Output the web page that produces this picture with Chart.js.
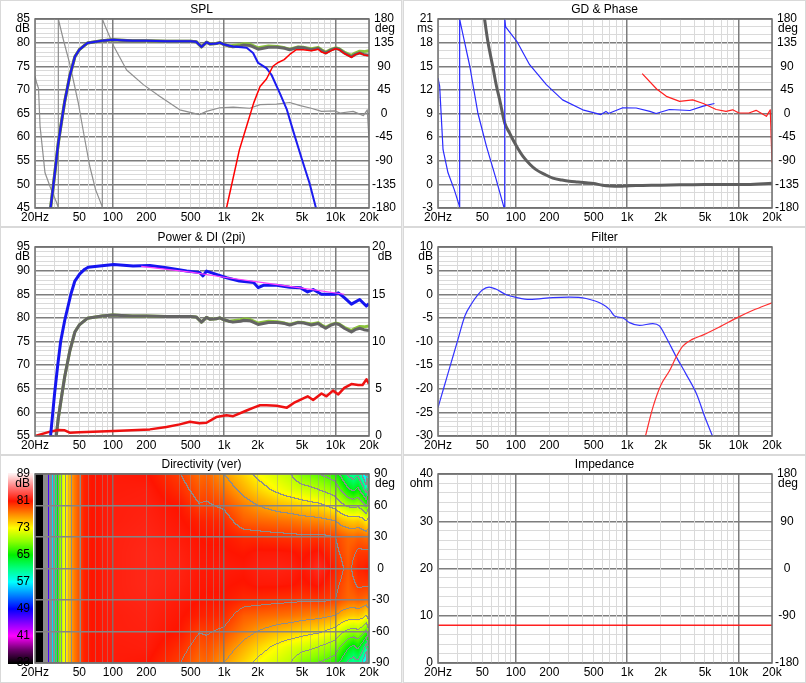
<!DOCTYPE html>
<html>
<head>
<meta charset="utf-8">
<script src="https://cdn.jsdelivr.net/npm/chart.js@4.4.1/dist/chart.umd.min.js"></script>
<style>
  html, body { margin: 0; padding: 0; background: #ececec; }
  body { width: 806px; height: 683px; position: relative; overflow: hidden; }
  .p { position: absolute; background: #fff; border: 1px solid #d9d9d9; box-sizing: border-box; }
  .c { position: absolute; width: 403px; height: 227px; }
  canvas { display: block; }
</style>
</head>
<body>
<div class="p" style="left:0;top:0;width:402px;height:227px"></div>
<div class="p" style="left:403px;top:0;width:403px;height:227px"></div>
<div class="p" style="left:0;top:227px;width:402px;height:228px"></div>
<div class="p" style="left:403px;top:227px;width:403px;height:228px"></div>
<div class="p" style="left:0;top:455px;width:402px;height:228px"></div>
<div class="p" style="left:403px;top:455px;width:403px;height:228px"></div>

<div class="c" style="left:0;top:0"><canvas id="spl" width="403" height="227"></canvas></div>
<div class="c" style="left:403px;top:0"><canvas id="gd" width="403" height="227"></canvas></div>
<div class="c" style="left:0;top:228px"><canvas id="pow" width="403" height="227"></canvas></div>
<div class="c" style="left:403px;top:228px"><canvas id="filt" width="403" height="227"></canvas></div>
<div class="c" style="left:0;top:455px"><canvas id="dir" width="403" height="227"></canvas></div>
<div class="c" style="left:403px;top:455px"><canvas id="imp" width="403" height="227"></canvas></div>

<script>
// ---- frequency axis ----
const xTickVals = [20, 30, 40, 50, 60, 70, 80, 90, 100, 200, 300, 400, 500, 600, 700, 800, 900,
  1000, 2000, 3000, 4000, 5000, 6000, 7000, 8000, 9000, 10000, 20000];
const xLabelVals = [20, 50, 100, 200, 500, 1000, 2000, 5000, 10000, 20000];
const xLabelText = ['20Hz', '50', '100', '200', '500', '1k', '2k', '5k', '10k', '20k'];
const xMajor = [100, 1000, 10000];

// ---- SPL ----
const splTicks = [45, 50, 55, 60, 65, 70, 75, 80, 85];
const degTicks = [-180, -135, -90, -45, 0, 45, 90, 135, 180];
const totFreq = [26, 27.6, 30, 32.4, 35, 37, 41, 45.6, 50, 59, 70, 80, 100, 120, 150, 200, 300, 400, 500, 560,
  626, 694, 750, 850, 914, 1000, 1100, 1200, 1400, 1500, 1700, 2020, 2500, 3000, 3500, 3880, 4600, 5200,
  6080, 7000, 7500, 8170, 9000, 10000, 10780, 12000, 13900, 15000, 16500, 18000, 20000];
const totSpl = [40, 45, 52, 58.8, 64, 67.6, 72.9, 77.0, 78.5, 79.9, 80.2, 80.4, 80.6, 80.5, 80.4, 80.4, 80.3, 80.3, 80.3, 80.2,
  79.1, 80.1, 79.7, 79.8, 80.0, 79.6, 79.3, 79.1, 79.3, 79.5, 79.4, 78.6, 79.0, 79.0, 78.8, 78.5, 79.0, 78.9,
  78.5, 78.8, 78.3, 77.8, 78.4, 78.8, 78.6, 77.8, 77.0, 77.5, 77.8, 77.5, 77.3];
const grnSpl = [40, 45, 52, 58.8, 64, 67.6, 72.9, 77.0, 78.5, 79.9, 80.2, 80.4, 80.6, 80.5, 80.4, 80.4, 80.3, 80.3, 80.3, 80.2,
  79.1, 80.1, 79.7, 79.8, 80.0, 79.6, 79.3, 79.4, 79.6, 79.8, 79.7, 78.9, 79.3, 79.2, 78.9, 78.6, 79.1, 79.0,
  78.7, 79.0, 78.5, 78.0, 78.5, 78.9, 78.7, 78.0, 77.3, 77.8, 78.2, 78.1, 78.3];
const wfFreq = [26, 27.6, 30, 32.4, 35, 37, 41, 45.6, 50, 59, 70, 80, 100, 120, 150, 200, 300, 400, 500, 560,
  626, 694, 750, 850, 914, 1000, 1205, 1592, 1820, 2020, 2400, 2660, 3160, 3660, 4220, 5010, 5840, 6680, 7200];
const wfSpl = [40, 45, 52, 58.8, 64, 67.6, 72.9, 77.0, 78.5, 79.9, 80.2, 80.4, 80.6, 80.5, 80.4, 80.4, 80.3, 80.3, 80.3, 80.2,
  79.1, 80.1, 79.7, 79.8, 80.0, 79.6, 79.2, 78.9, 77.8, 75.7, 74.6, 73.2, 69.3, 65.8, 60.9, 55.2, 50.3, 45, 42];
const twFreq = [1000, 1050, 1370, 1590, 1840, 2100, 2400, 2740, 3060, 3460, 3880, 4450, 5130, 6080, 7000, 7500,
  8170, 9000, 10000, 10780, 12000, 13900, 15000, 16500, 18000, 20000];
const twSpl = [41.5, 45, 57.3, 62.3, 67.2, 70.7, 72.3, 75.0, 75.8, 76.4, 77.5, 78.5, 78.5, 78.3, 78.6, 78.0,
  77.7, 78.2, 78.7, 78.5, 77.7, 76.9, 77.4, 77.8, 77.4, 77.2];
const sphFreq = [20, 20.7, 21.5, 22.2, 24.6, 27.3, 31.3, 32.4, 32.4, 36, 41, 49, 55, 62, 70, 79.5, 80.5, 80.5,
  84, 102, 133, 188, 263, 399, 601, 694, 914, 1205, 1700, 2100, 2960, 3880, 4830, 6050, 7490, 9800, 11000,
  14400, 17800, 19300, 20000];
const sphDeg = [71, 58, 48, -24, -113, -139, -170, -180, 180, 140, 95, 20, -40, -100, -145, -175, -180, 180,
  170, 128, 83, 55, 33, 7, -2, 4, 11, 12, 10, 17, 18, 21, 15, 10, 4, 5, 1, 4, -4, 7, -50];

// ---- GD & phase ----
const msTicks = [-3, 0, 3, 6, 9, 12, 15, 18, 21];
const gdFreq = [48, 52.4, 56, 62, 67, 71.5, 79.5, 88, 94, 105, 116, 135, 152, 180, 215, 260, 303, 360, 428, 500,
  601, 700, 850, 1000, 1205, 2000, 3000, 5000, 8000, 12000, 20000];
const gdMs = [25, 21, 18.2, 15.0, 12.5, 10.8, 7.8, 6.5, 5.7, 4.5, 3.56, 2.5, 1.87, 1.3, 0.8, 0.55, 0.4, 0.3, 0.2, 0.1,
  -0.1, -0.2, -0.25, -0.2, -0.15, -0.1, -0.05, 0, 0, 0, 0.15];
const gpFreq = [20, 20.7, 22.2, 24.6, 28, 31, 31.3, 31.3, 32, 38.6, 45.6, 54.5, 66.7, 78, 79.5, 79.5, 81, 102,
  133, 188, 263, 399, 582, 645, 680, 914, 1205, 1600, 1820, 2400, 3660, 4830, 6080];
const gpDeg = [67.6, 52, -69, -113, -145, -175, -180, 180, 170, 90, 1, -62.5, -126, -178, -180, 180, 165, 137.5,
  93, 55, 26, 7, -2, 4, 0, 11, 10.5, 4, 0, 7.6, 5.7, 14, 19];
const grFreq = [1365, 1840, 2250, 2960, 3880, 4830, 6300, 7730, 8870, 10100, 12400, 14400, 17800, 19300, 20000];
const grDeg = [75.9, 46.7, 32.7, 23, 26, 19, 7.6, 4, 7, 1, 1, 6, -5.4, 7, -94];

// ---- Power & DI ----
const powTicks = [55, 60, 65, 70, 75, 80, 85, 90, 95];
const diTicks = [0, 5, 10, 15, 20];
const pbFreq = [26, 27.6, 30, 32, 34, 37, 42, 45.6, 50.5, 56, 60, 76, 102, 152, 215, 303, 460, 601, 645, 694, 850,
  1050, 1370, 1840, 2020, 2250, 2960, 3880, 4830, 5620, 6300, 7490, 9800, 10600, 12000, 13900, 16500, 18900, 20000];
const pbSpl = [50, 55, 64, 70, 75, 79.5, 85, 87.8, 89.3, 90.3, 90.7, 91.0, 91.3, 91.0, 91.1, 90.6, 89.9, 89.6, 88.9, 89.9, 89.2,
  88.5, 87.8, 87.5, 86.4, 86.9, 86.9, 86.5, 86.4, 85.5, 86.0, 85.0, 85.0, 85.3, 84.3, 82.9, 83.9, 82.5, 83.0];
const mgFreq = [180, 500, 1000, 2000, 5000, 12000];
const mgSpl = [90.9, 89.7, 88.6, 87.6, 86.3, 85.0];
const diFreq = [20, 27.3, 32.4, 37, 41, 50, 102, 215, 303, 399, 492, 601, 694, 850, 1050, 1205, 1590, 1840, 2100,
  2400, 2960, 3660, 4220, 5620, 6300, 7490, 8300, 9500, 10600, 12000, 13900, 16000, 17500, 19000, 20000];
const diDb = [0, 0.46, 0.63, 0.6, 0.35, 0.39, 0.53, 0.7, 0.95, 1.23, 1.5, 1.34, 1.4, 2.0, 2.2, 2.1, 2.7, 3.0, 3.25,
  3.25, 3.2, 3.0, 3.5, 4.2, 3.8, 4.5, 4.2, 4.8, 4.4, 5.1, 5.5, 5.4, 5.4, 6.0, 5.5];

// ---- Filter ----
const filtTicks = [-30, -25, -20, -15, -10, -5, 0, 5, 10];
const fbFreq = [20, 23, 26, 30, 35, 40, 45, 50, 57.5, 66, 82, 102, 133, 215, 303, 428, 601, 694, 770, 914, 1050,
  1290, 1700, 1950, 2250, 2740, 3380, 4220, 5010, 5840];
const fbDb = [-24.0, -19.1, -14.8, -9.8, -4.5, -2.0, -0.3, 0.9, 1.5, 1.1, -0.1, -0.7, -1.1, -0.7, -0.6, -0.9, -2.1, -3.2,
  -4.6, -5.0, -6.0, -6.6, -6.2, -6.7, -9.2, -13.1, -16.9, -21.2, -26.1, -30];
const frFreq = [1461, 1700, 2020, 2400, 2740, 3160, 3880, 4830, 6680, 9860, 13500, 20000];
const frDb = [-30, -24, -19.1, -16.2, -13.4, -11.0, -9.5, -8.6, -7.0, -4.9, -3.4, -1.8];

// ---- Directivity (ver), dB at angle rows 0..90 (both sides) ----
const dirBarTicks = [33, 41, 49, 57, 65, 73, 81, 89];
const dirAngTicks = [-90, -60, -30, 0, 30, 60, 90];
const dirFreq = [20, 23, 23.6, 25, 26.5, 27.8, 29, 31, 33, 36, 40, 45, 50, 55, 65,
  100, 200, 400, 600, 700, 1000, 1500, 2000, 3000, 4000, 5000, 6000, 7000, 8000, 9000, 10000,
  11500, 13000, 14500, 16000, 17500, 19000, 20000];
const dirAngles = [0, 15, 30, 45, 60, 75, 90];
const dirLow = [25, 31, 33, 41, 47, 52, 57, 63, 68, 72, 75, 77.5, 79, 80.5, 81];
const dirLevels = [
  [...dirLow, 81.5, 81.8, 81.6, 81.2, 81.2, 81.3, 81.2, 81.5, 81.6, 81.5, 81.2, 81.5, 82, 81.5, 81, 80.5, 79.8, 78.8, 79.8, 80.5, 80.5, 80.8, 80.8],
  [...dirLow, 81.5, 81.8, 81.5, 81.1, 81.1, 81.1, 80.9, 81.2, 81.2, 81.1, 80.8, 81, 81.2, 80.8, 80.4, 80, 79.2, 78.5, 79.2, 79.8, 79.8, 79.8, 79.7],
  [...dirLow, 81.5, 81.7, 81.3, 81, 80.9, 80.9, 80.3, 80.2, 80, 79.9, 79.8, 79.8, 79.9, 79.8, 79.6, 79.5, 78.8, 78.3, 78.2, 78.5, 78.3, 78.0, 78.5],
  [...dirLow, 81.4, 81.6, 81.1, 80.6, 80.5, 80.3, 78.6, 78.3, 78, 77.8, 77.5, 77.3, 77.2, 77, 76.8, 76.5, 75.5, 75, 74.8, 75, 74.5, 73.5, 75],
  [...dirLow, 81.4, 81.5, 80.9, 79.6, 79.7, 79.2, 77.5, 76.5, 75.5, 75, 74.5, 74.2, 74, 73.5, 73, 72.5, 71, 70, 69.5, 70, 69, 67, 70],
  [...dirLow, 81.3, 81.4, 80.2, 78.8, 79, 77.8, 75.8, 74.5, 73, 72, 71.5, 71, 70.5, 70, 69.5, 69, 67, 65, 64, 65, 63, 60, 65],
  [...dirLow, 81.3, 81.1, 79.6, 78, 78.3, 76.5, 74.5, 73, 71.5, 70.5, 68.5, 68, 67.5, 67, 66.5, 66, 63.5, 61, 60, 61, 58, 55, 62]
];
const cbVals = [33, 37, 41, 45, 49, 53, 57, 61, 65, 69, 73, 77, 81, 85, 89];
const cbColors = [[0, 0, 0], [110, 0, 110], [255, 0, 255], [128, 0, 255], [0, 0, 255], [0, 128, 255], [0, 255, 255],
  [0, 255, 128], [0, 240, 0], [140, 255, 0], [255, 255, 0], [255, 140, 0], [255, 20, 0], [255, 120, 120], [255, 240, 240]];

// ---- Impedance ----
const ohmTicks = [0, 10, 20, 30, 40];
const impDegTicks = [-180, -90, 0, 90, 180];
const impFreq = [20, 20000];
const impOhm = [8, 8];

// ---- helpers ----
const FONT = { family: '"Liberation Sans", Arial, sans-serif', size: 12 };
const MAJ = '#7d7d7d', MIN = '#dadada';
const pts = (xs, ys) => xs.map((x, i) => ({ x, y: ys[i] }));

function xAxis(minCol, majCol, z) {
  return {
    type: 'logarithmic', position: 'bottom', min: 20, max: 20000,
    afterBuildTicks: s => { s.ticks = xTickVals.map(v => ({ value: v })); },
    afterFit: s => { s.height = 19; },
    ticks: {
      autoSkip: false, maxRotation: 0, padding: 2, color: '#000', font: FONT,
      callback: v => { const i = xLabelVals.indexOf(v); return i < 0 ? '' : xLabelText[i]; }
    },
    grid: {
      drawTicks: false, z: z || 0,
      color: c => xMajor.includes(c.tick.value) ? majCol : minCol,
      lineWidth: c => xMajor.includes(c.tick.value) ? 1.5 : 1
    },
    border: { display: false }
  };
}

function leftAxis(majors, minorStep, gridOn) {
  const min = majors[0], max = majors[majors.length - 1];
  const vals = [];
  for (let v = min; v <= max + 1e-6; v += minorStep) vals.push(Math.round(v * 1000) / 1000);
  return {
    type: 'linear', position: 'left', min, max,
    afterBuildTicks: s => { s.ticks = vals.map(v => ({ value: v })); },
    afterFit: s => { s.width = 35; },
    ticks: {
      autoSkip: false, padding: 5, color: '#000', font: FONT,
      callback: v => majors.includes(v) ? String(v) : ''
    },
    grid: {
      display: gridOn, drawTicks: false,
      color: c => majors.includes(c.tick.value) ? MAJ : MIN,
      lineWidth: c => majors.includes(c.tick.value) ? 1.5 : 1
    },
    border: { display: false }
  };
}

function rightAxis(majors, grid) {
  return {
    type: 'linear', position: 'right', min: majors[0], max: majors[majors.length - 1],
    afterBuildTicks: s => { s.ticks = majors.map(v => ({ value: v })); },
    afterFit: s => { s.width = 34; },
    ticks: { autoSkip: false, padding: 3, crossAlign: 'center', color: '#000', font: FONT },
    grid: grid ? { drawTicks: false, z: 1, color: '#858585', lineWidth: 1.5 } : { display: false, drawTicks: false },
    border: { display: false }
  };
}

function blankRight() {
  return {
    type: 'linear', position: 'right', min: 0, max: 1,
    afterFit: s => { s.width = 34; },
    ticks: { display: false }, grid: { display: false, drawTicks: false }, border: { display: false }
  };
}

const panelPlugin = {
  id: 'panel',
  afterDraw(chart, args, o) {
    const { ctx, chartArea: a } = chart;
    ctx.save();
    ctx.strokeStyle = '#6e6e6e';
    ctx.lineWidth = 1.5;
    ctx.strokeRect(a.left, a.top, a.right - a.left, a.bottom - a.top);
    ctx.fillStyle = '#000';
    ctx.font = '12px "Liberation Sans", Arial, sans-serif';
    ctx.textBaseline = 'middle';
    ctx.textAlign = 'center';
    ctx.fillText(o.title, chart.width / 2, 10);
    if (o.unitL) { ctx.textAlign = 'right'; ctx.fillText(o.unitL, 30, a.top + 10); }
    if (o.unitR) { ctx.textAlign = 'center'; ctx.fillText(o.unitR, 385, a.top + 10); }
    ctx.restore();
  }
};

function line(xs, ys, color, width, order, axis, smooth) {
  return {
    data: pts(xs, ys), borderColor: color, borderWidth: width, order,
    yAxisID: axis || 'y', pointRadius: 0, fill: false,
    cubicInterpolationMode: smooth ? 'monotone' : 'default', tension: 0,
    borderJoinStyle: 'round'
  };
}

function makeChart(id, datasets, scales, panel, plugins) {
  return new Chart(document.getElementById(id), {
    type: 'line',
    data: { datasets },
    options: {
      responsive: false, animation: false, events: [],
      layout: { padding: { top: 19, left: 0, right: 0, bottom: 0 } },
      scales,
      plugins: { legend: { display: false }, tooltip: { enabled: false }, panel }
    },
    plugins: [panelPlugin].concat(plugins || [])
  });
}

// ---- directivity drawing ----
function levelAt(f, ang) {
  let k = 0;
  while (k < dirFreq.length - 2 && f > dirFreq[k + 1]) k++;
  const t = Math.min(1, Math.max(0, Math.log(f / dirFreq[k]) / Math.log(dirFreq[k + 1] / dirFreq[k])));
  let r = 0;
  while (r < dirAngles.length - 2 && ang > dirAngles[r + 1]) r++;
  const u = Math.min(1, Math.max(0, (ang - dirAngles[r]) / (dirAngles[r + 1] - dirAngles[r])));
  const a = dirLevels[r], b = dirLevels[r + 1];
  const l0 = a[k] + (a[k + 1] - a[k]) * t;
  const l1 = b[k] + (b[k + 1] - b[k]) * t;
  return l0 + (l1 - l0) * u;
}

function colorFor(v) {
  if (v <= cbVals[0]) return cbColors[0];
  for (let i = 1; i < cbVals.length; i++) {
    if (v <= cbVals[i]) {
      const t = (v - cbVals[i - 1]) / (cbVals[i] - cbVals[i - 1]);
      const a = cbColors[i - 1], b = cbColors[i];
      return [a[0] + (b[0] - a[0]) * t, a[1] + (b[1] - a[1]) * t, a[2] + (b[2] - a[2]) * t];
    }
  }
  return cbColors[cbColors.length - 1];
}

// contour lines every 3 dB, one of them at 79.5 dB
const contourBand = L => Math.floor((L - 79.5) / 3);

const heatPlugin = {
  id: 'heat',
  beforeDraw(chart) {
    const { ctx, scales } = chart;
    const top = scales.y.getPixelForValue(cbVals[cbVals.length - 1]);
    const bot = scales.y.getPixelForValue(cbVals[0]);
    const g = ctx.createLinearGradient(0, bot, 0, top);
    cbVals.forEach((v, i) => {
      const c = cbColors[i];
      g.addColorStop((v - cbVals[0]) / (cbVals[cbVals.length - 1] - cbVals[0]), `rgb(${c[0]},${c[1]},${c[2]})`);
    });
    ctx.save();
    ctx.fillStyle = g;
    ctx.fillRect(8, top - 1, 25, bot - top + 2);
    ctx.restore();
  },
  beforeDatasetsDraw(chart) {
    const { ctx, chartArea: a, scales } = chart;
    const w = Math.round(a.right - a.left), h = Math.round(a.bottom - a.top);
    const lv = new Float32Array(w * h);
    const fr = [];
    for (let i = 0; i < w; i++) fr.push(scales.x.getValueForPixel(a.left + i + 0.5));
    for (let j = 0; j < h; j++) {
      const ang = Math.abs(scales.y1.getValueForPixel(a.top + j + 0.5));
      for (let i = 0; i < w; i++) lv[j * w + i] = levelAt(fr[i], ang);
    }
    const off = document.createElement('canvas');
    off.width = w; off.height = h;
    const octx = off.getContext('2d');
    const img = octx.createImageData(w, h);
    const d = img.data;
    for (let j = 0; j < h; j++) {
      for (let i = 0; i < w; i++) {
        const p = j * w + i, L = lv[p];
        const band = contourBand(L);
        let c = colorFor(L);
        const edge = L > 34 && ((i + 1 < w && contourBand(lv[p + 1]) !== band) ||
          (j + 1 < h && contourBand(lv[p + w]) !== band));
        if (edge) c = [140, 140, 140];
        d[p * 4] = c[0]; d[p * 4 + 1] = c[1]; d[p * 4 + 2] = c[2]; d[p * 4 + 3] = 255;
      }
    }
    octx.putImageData(img, 0, 0);
    ctx.drawImage(off, a.left, a.top, a.right - a.left, a.bottom - a.top);
  }
};

// ---- charts ----
makeChart('spl', [
  line(twFreq, twSpl, '#ff0000', 1.5, 0),
  line(wfFreq, wfSpl, '#1c1cf0', 2, 1),
  line(totFreq, totSpl, '#666666', 3, 2),
  line(totFreq, grnSpl, '#8cc43c', 3, 3),
  line(sphFreq, sphDeg, '#8f8f8f', 1.2, 4, 'y1')
], { x: xAxis(MIN, MAJ), y: leftAxis(splTicks, 1, true), y1: rightAxis(degTicks) },
{ title: 'SPL', unitL: 'dB', unitR: 'deg' });

makeChart('gd', [
  line(grFreq, grDeg, '#ff2020', 1.2, 0, 'y1'),
  line(gpFreq, gpDeg, '#2b2bff', 1.2, 1, 'y1'),
  line(gdFreq, gdMs, '#5e5e5e', 3, 2, 'y', true)
], { x: xAxis(MIN, MAJ), y: leftAxis(msTicks, 1, true), y1: rightAxis(degTicks) },
{ title: 'GD & Phase', unitL: 'ms', unitR: 'deg' });

makeChart('pow', [
  line(mgFreq, mgSpl, '#ff40ff', 1.2, 0),
  line(pbFreq, pbSpl, '#1515f0', 3, 1),
  line(diFreq, diDb, '#ee1111', 2.5, 2, 'y1'),
  line(totFreq, totSpl, '#646464', 3, 3),
  line(totFreq, grnSpl, '#8cc43c', 3, 4)
], { x: xAxis(MIN, MAJ), y: leftAxis(powTicks, 1, true), y1: rightAxis(diTicks) },
{ title: 'Power & DI (2pi)', unitL: 'dB', unitR: 'dB' });

makeChart('filt', [
  line(frFreq, frDb, '#ff3030', 1.2, 0, 'y', true),
  line(fbFreq, fbDb, '#3333ff', 1.2, 1, 'y', true)
], { x: xAxis(MIN, MAJ), y: leftAxis(filtTicks, 1, true), y1: blankRight() },
{ title: 'Filter', unitL: 'dB' });

makeChart('dir', [], {
  x: xAxis('rgba(150,150,150,0.45)', 'rgba(120,120,120,0.85)', 1),
  y: leftAxis(dirBarTicks, 8, false),
  y1: rightAxis(dirAngTicks, true)
}, { title: 'Directivity (ver)', unitL: 'dB', unitR: 'deg' }, [heatPlugin]);

makeChart('imp', [
  line(impFreq, impOhm, '#ff2020', 1.5, 0)
], { x: xAxis(MIN, MAJ), y: leftAxis(ohmTicks, 2, true), y1: rightAxis(impDegTicks) },
{ title: 'Impedance', unitL: 'ohm', unitR: 'deg' });
</script>
</body>
</html>
